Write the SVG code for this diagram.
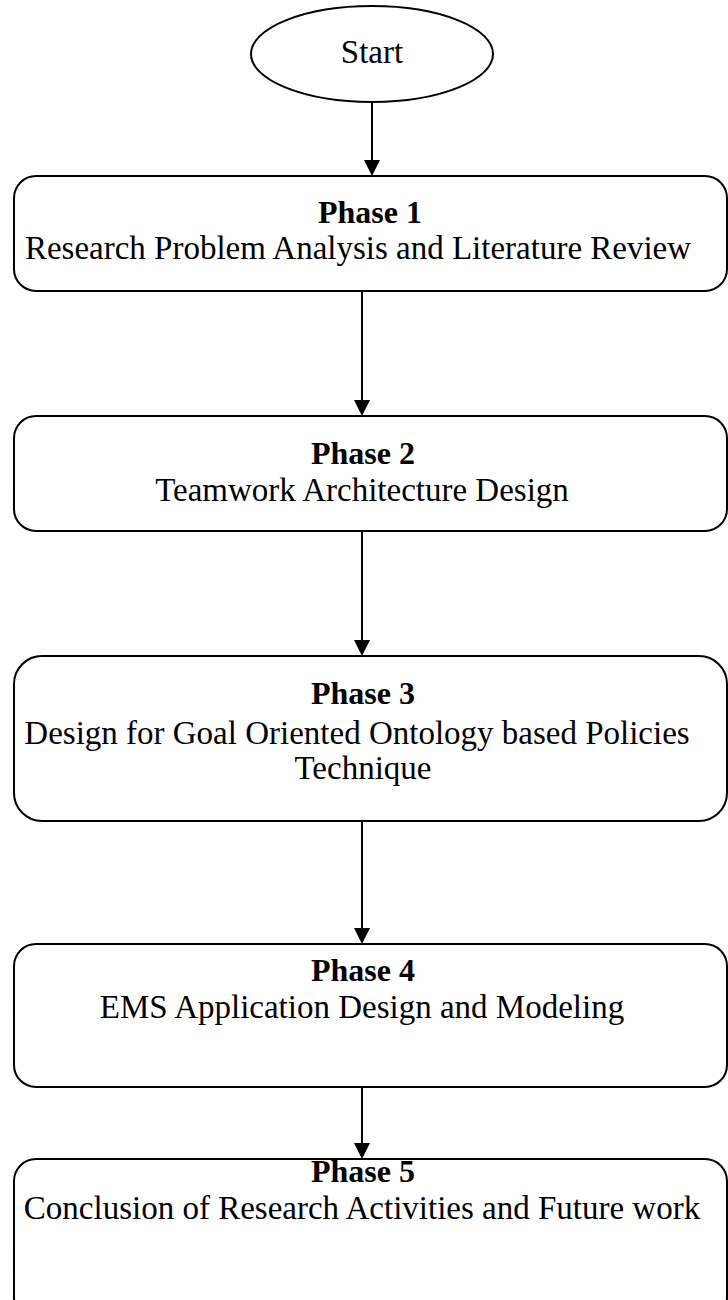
<svg xmlns="http://www.w3.org/2000/svg" width="728" height="1300" viewBox="0 0 728 1300">
<style>
.box{fill:#fff;stroke:#000;stroke-width:2}
.t{font-family:"Liberation Serif","Times New Roman",serif;font-size:33px;fill:#000;text-anchor:middle}
.b{font-weight:bold;font-size:32px}
.c{stroke:#000;stroke-width:2;fill:none}
</style>
<rect width="728" height="1300" fill="#fff"/>
<g id="connectors">
<line class="c" x1="372" y1="102" x2="372" y2="160"/>
<path d="M364,160 L380,160 L372,176 z"/>
<line class="c" x1="362" y1="292" x2="362" y2="400"/>
<path d="M354,400 L370,400 L362,416 z"/>
<line class="c" x1="362" y1="531" x2="362" y2="640"/>
<path d="M354,640 L370,640 L362,656 z"/>
<line class="c" x1="362" y1="821" x2="362" y2="928"/>
<path d="M354,928 L370,928 L362,944 z"/>
<line class="c" x1="362" y1="1087" x2="362" y2="1143"/>
<path d="M354,1143 L370,1143 L362,1159 z"/>
</g>
<g id="start">
<ellipse class="box" cx="372" cy="54" rx="121" ry="48"/>
<text class="t" x="372" y="63">Start</text>
</g>
<g id="phase1">
<rect class="box" x="14" y="176" width="713" height="115" rx="22"/>
<text class="t b" x="370" y="223">Phase 1</text>
<text class="t" x="358" y="259">Research Problem Analysis and Literature Review</text>
</g>
<g id="phase2">
<rect class="box" x="14" y="416" width="713" height="115" rx="22"/>
<text class="t b" x="363" y="464">Phase 2</text>
<text class="t" x="362" y="501">Teamwork Architecture Design</text>
</g>
<g id="phase3">
<rect class="box" x="14" y="656" width="713" height="165" rx="28"/>
<text class="t b" x="363" y="704">Phase 3</text>
<text class="t" x="357" y="744">Design for Goal Oriented Ontology based Policies</text>
<text class="t" x="363" y="779">Technique</text>
</g>
<g id="phase4">
<rect class="box" x="14" y="944" width="713" height="143" rx="22"/>
<text class="t b" x="363" y="981">Phase 4</text>
<text class="t" x="362" y="1018">EMS Application Design and Modeling</text>
</g>
<g id="phase5">
<rect class="box" x="14" y="1159" width="713" height="160" rx="22"/>
<text class="t b" x="363" y="1182">Phase 5</text>
<text class="t" x="362" y="1219">Conclusion of Research Activities and Future work</text>
</g>
</svg>
